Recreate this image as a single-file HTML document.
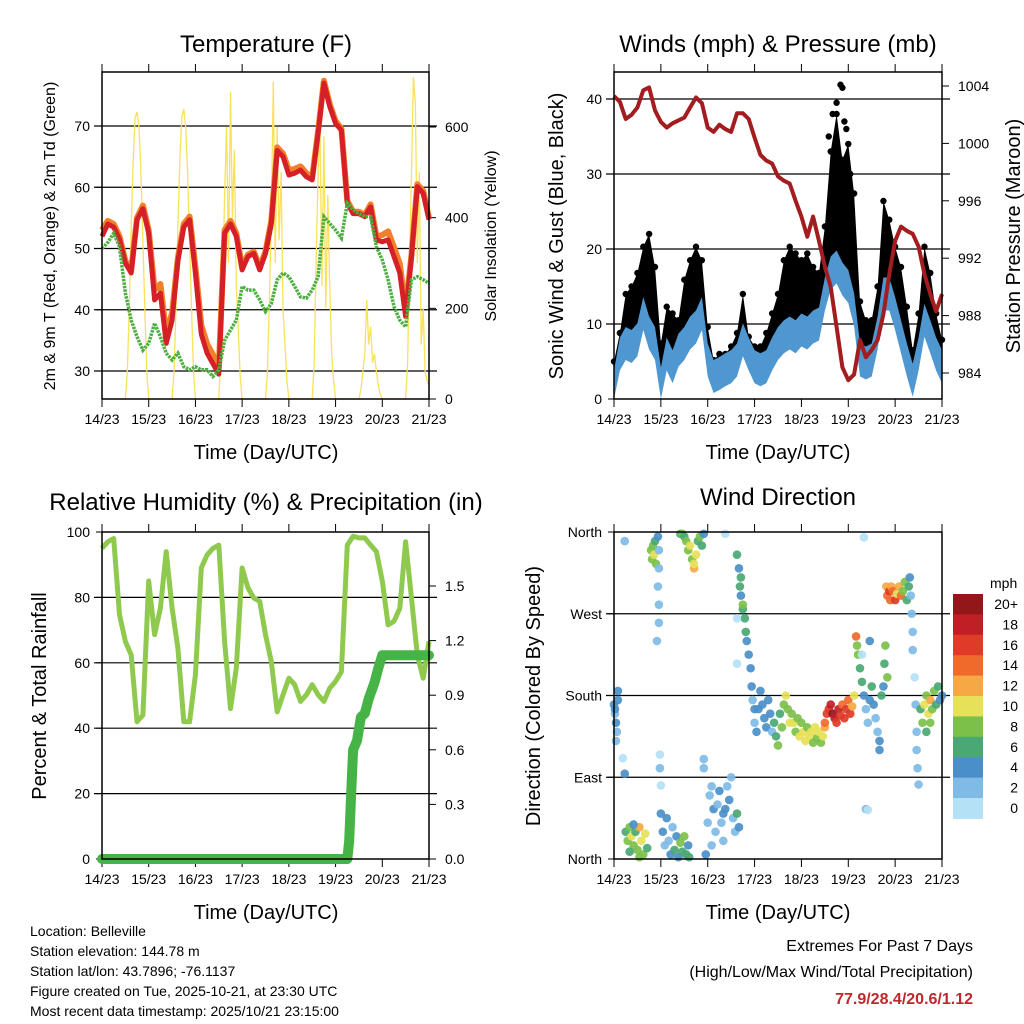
<!DOCTYPE html>
<html><head><meta charset="utf-8"><title>Weather station</title>
<style>
html,body{margin:0;padding:0;background:#fff;}
svg{display:block;font-family:"Liberation Sans",Arial,sans-serif;}
</style></head>
<body>
<svg id="fig" width="1024" height="1024" viewBox="0 0 1024 1024" xmlns="http://www.w3.org/2000/svg">
<rect width="1024" height="1024" fill="#fff"/>
<text x="266" y="52" font-size="24" text-anchor="middle">Temperature (F)</text>
<text x="778" y="52" font-size="24" text-anchor="middle">Winds (mph) &amp; Pressure (mb)</text>
<text x="266" y="510" font-size="24" text-anchor="middle">Relative Humidity (%) &amp; Precipitation (in)</text>
<text x="778" y="505" font-size="24" text-anchor="middle">Wind Direction</text>
<text x="266" y="459" font-size="20" text-anchor="middle">Time (Day/UTC)</text>
<text x="778" y="459" font-size="20" text-anchor="middle">Time (Day/UTC)</text>
<text x="266" y="919" font-size="20" text-anchor="middle">Time (Day/UTC)</text>
<text x="778" y="919" font-size="20" text-anchor="middle">Time (Day/UTC)</text>
<text transform="translate(55,236) rotate(-90)" font-size="16" text-anchor="middle">2m &amp; 9m T (Red, Orange) &amp; 2m Td (Green)</text>
<text transform="translate(496,236) rotate(-90)" font-size="16" text-anchor="middle">Solar Insolation (Yellow)</text>
<text transform="translate(563,236) rotate(-90)" font-size="20" text-anchor="middle">Sonic Wind &amp; Gust (Blue, Black)</text>
<text transform="translate(1020,236) rotate(-90)" font-size="20" text-anchor="middle">Station Pressure (Maroon)</text>
<text transform="translate(46,696) rotate(-90)" font-size="20" text-anchor="middle">Percent &amp; Total Rainfall</text>
<text transform="translate(540,696) rotate(-90)" font-size="20" text-anchor="middle">Direction (Colored By Speed)</text>
<g font-size="14">
<text x="30" y="936">Location: Belleville</text>
<text x="30" y="956">Station elevation: 144.78 m</text>
<text x="30" y="976">Station lat/lon: 43.7896; -76.1137</text>
<text x="30" y="996">Figure created on Tue, 2025-10-21, at 23:30 UTC</text>
<text x="30" y="1016">Most recent data timestamp: 2025/10/21 23:15:00</text>
</g>
<g text-anchor="end">
<text x="973" y="951" font-size="16">Extremes For Past 7 Days</text>
<text x="973" y="977" font-size="16">(High/Low/Max Wind/Total Precipitation)</text>
<text x="973" y="1004" font-size="16" font-weight="bold" fill="#c0272d">77.9/28.4/20.6/1.12</text>
</g>
</svg>
<script>
// ---------- data ----------
const hours3 = [0,3,6,9,12,15,18,21,24,27,30,33,36,39,42,45,48,51,54,57,60,63,66,69,72,75,78,81,84,87,90,93,96,99,102,105,108,111,114,117,120,123,126,129,132,135,138,141,144,147,150,153,156,159,162,165,168];
const tempRed = [52,54,53.5,51.5,47.6,46,54.7,56.5,52.5,41.6,42.7,34.5,38.3,48,53.5,54.7,46,36,32.9,31.2,29.5,52.5,54,52,46.5,48.7,49.2,46.5,49.2,54,66,65,62,62.3,62.8,61.7,61.2,68.8,77,73.2,70.4,69.3,57.4,55.7,55.7,55.2,56.8,51.4,51.1,51.4,48.7,46,38.9,48.7,60.1,59,54.7];
const tempOrange = [53,54.5,54,52,48,46.5,55,57,53,43.2,44.2,36,39.5,48.5,54,55.2,47,37.5,34.4,32.7,30.5,53,54.5,52.5,47,49,49.5,47,49.5,54.5,66.5,65.5,62.8,63,63.4,62.3,61.6,69.2,77.4,73.6,70.8,69.6,57.8,56,56,55.5,57.2,52,52.2,52.8,50.2,47.5,40,49,60.5,59.4,55];
const dewGreen = [50,51,52.5,50.3,42.7,38.3,35.6,33.4,34.5,37.8,35.6,32.9,31.8,32.9,30.7,30.2,30.7,30.2,30.2,29.1,30.2,35,36.7,38.3,43.8,43.2,43.2,41.6,39.7,41,44.9,46,45.4,43.8,42.1,41.9,43.2,45.4,55.2,54.1,53,51.7,57.4,56.3,55.7,55.2,55.2,50.3,48.1,44.9,40.5,38.3,37.2,44.9,45.4,44.9,44.3];
const solar = [0,0,0,0,0,0,0,0,0,0,0,0,
 0,60,200,380,520,620,633,600,500,350,200,60,
 0,0,0,0,0,0,0,0,0,0,0,0,
 0,60,200,380,530,620,640,600,500,350,200,60,
 0,0,0,0,0,0,0,0,0,0,0,0,
 0,80,250,450,600,300,677,400,550,250,150,50,
 0,0,0,0,0,0,0,0,0,0,0,0,
 0,60,220,400,700,300,600,350,500,200,120,40,
 0,0,0,0,0,0,0,0,0,0,0,0,
 0,80,300,500,600,250,580,200,450,250,100,40,
 0,0,0,0,0,0,0,0,0,0,0,0,
 0,20,60,100,218,120,160,80,100,60,30,10,
 0,0,0,0,0,0,0,0,0,0,0,0,
 0,80,300,500,710,650,300,500,120,200,60,40,30];
const windSpeed = [1.6,6,7.4,7,7.9,11.4,8.8,7.4,2,6,4.3,6.5,7.4,8.8,9.6,11.4,5.2,3,3.4,3.9,4.3,5.2,7.9,6,4.3,3.9,4.3,6,7.4,8.3,8.8,8.3,9.2,8.8,9.6,10,14,16.8,17.6,16,15,11.9,5.2,4.8,5.2,8.8,14,14,11.4,8.3,5.2,2.5,6,10.5,8.3,6,4.3];
const windGust = [5,8.8,14,15,16.8,20.3,22,17.6,7.4,12.3,11.4,10.5,15.9,18.5,20.3,18.5,9.6,5.2,6,6,7,8.8,14,8.3,7,7,8.8,11.4,14,18.5,20.3,19.4,18.5,19.4,17.6,16.8,23,33,38,31.9,34,27.4,13,10.5,10.5,15,26.4,23.9,20.3,17.6,12.3,6.5,11.4,20.3,16.8,11.4,7.9];
const gustPeakHours = [110,112,114,116,117,118,119,121];
const gustPeakValues = [35,38,39.5,41.9,41.5,37,36,30];
const pressure = [1003.3,1002.9,1001.7,1002,1002.5,1003.7,1003.9,1002.3,1001.5,1001.1,1001.4,1001.6,1001.8,1002.5,1003.2,1002.8,1001.1,1000.8,1001.3,1001,1000.8,1002.1,1002.1,1001.7,1000.4,999.2,998.8,998.6,997.7,997.4,997.2,996,994.9,993.5,994.9,993.2,991.4,990,987.2,984.4,983.5,983.9,986.3,985.1,985.6,986.3,988.1,990.9,993.2,994.2,993.9,993.7,992.8,990.9,989.5,988.3,989.5];
const humidity = [95,97,98,74.7,66.5,62.4,42,44,85,68.6,76.7,94,76.7,64.5,42,42,56.3,89,93,95,96,66.5,46,58.4,89,82.9,79.8,78.8,68.6,60.4,45,50.2,55.3,53.3,48.2,50.2,53.3,50.2,48.2,52.2,54.3,57.3,96,98.7,98.2,98.2,96,94,85,71.6,72.7,76.7,97,79.8,62.4,55.3,66.5];
const precipHours = [0,126,127,128,129,131,133,135,137,140,142,144,168];
const precipTotal = [0,0,0.1,0.35,0.6,0.65,0.78,0.8,0.88,0.97,1.05,1.12,1.12];
const dirHours = [0,0.5,1,1.5,2,1,2,0.5,5.5,5.5,4.5,
6,7,8,9,10,11,12,13,14,15,16,17,8,10,13,
19,19.5,20,20.5,21,21.5,
22.5,22.5,23,23,23,23,22,23.5,23.5,24,
24,25,26,27,28,29,30,31,32,33,34,35,36,37,38,38.5,
34,35,36,37,38,39,40,41,42,43,44,45,46,41,
47,48,49,50,51,52,53,54,55,56,57,58,59,60,61,62,63,64,50,56,46,46,
63,64,64.5,65,65,66,67,67.5,68,69,70,70.5,71,72,66,63,63,
72,73,74,75,76,77,78,79,80,81,82,83,84,85,86,87,88,89,90,91,
92,93,94,95,96,97,98,99,100,101,102,103,104,105,106,107,108,
108,109,110,111,112,113,114,115,116,117,118,119,120,121,122,123,
124,124.5,125,126,127,128,129,130,131,132,133,134,135,136,137,138,138.5,139,140,136,131,129,127,
139.5,140,141,141.5,142,143,144,145,146,147,148,149,150,151,151.5,
152,152.5,153,153,154,154.5,155,155,155.5,156,
157,158,159,160,161,162,163,164,165,166,167,168,160,162,
57,128,130];
const dirDegrees = [170,160,150,140,175,130,185,165,350,94,111,
30,20,35,25,15,30,10,35,20,5,28,12,8,38,2,
340,330,345,335,350,325,
355,300,280,320,260,340,240,115,100,81,
50,30,15,45,20,5,35,10,25,2,18,8,25,5,15,2,
358,358,355,350,340,345,330,320,335,350,355,345,358,325,
5,40,70,80,55,30,60,75,40,20,55,80,65,90,45,30,50,35,15,50,110,100,
335,320,300,290,310,275,265,250,240,225,210,190,175,165,280,215,265,
150,140,165,185,170,155,145,175,160,140,150,135,125,160,145,170,180,165,150,160,
150,140,155,135,150,140,130,145,135,140,128,145,133,140,128,135,145,
150,160,165,170,160,155,150,165,158,170,155,165,175,160,168,180,
245,235,225,210,195,180,165,150,175,190,170,155,140,130,180,190,215,235,200,120,240,55,225,
300,290,295,285,300,295,285,292,300,290,295,305,285,300,310,
290,270,250,230,200,170,140,120,100,82,
165,150,170,180,160,175,165,185,170,190,175,180,140,150,
358,354,54];
const dirSpeeds = [4,3,4,3,4,2,4,4,2,4,1,
6,8,8,10,8,6,8,12,10,8,10,6,6,4,8,
8,8,8,10,6,8,
4,2,2,2,2,2,2,1,2,1,
4,4,2,4,2,4,3,6,4,4,8,6,8,6,4,6,
6,8,6,8,8,10,8,12,10,6,8,6,4,10,
4,2,2,2,4,2,2,4,2,2,4,2,4,2,2,2,6,4,2,4,2,2,
6,4,6,4,6,6,6,6,4,4,4,4,2,4,8,1,1,
2,4,4,4,4,4,4,4,4,2,6,6,8,6,8,8,10,8,10,8,
10,8,8,10,8,10,10,8,10,10,8,10,8,10,8,10,12,
14,16,16,18,20,18,16,18,16,14,16,16,14,16,12,10,
14,8,8,6,6,4,2,2,4,6,4,2,2,4,6,4,6,8,8,4,4,2,1,
12,14,16,14,12,14,16,10,12,14,8,8,6,6,4,
2,2,2,2,1,2,2,2,2,2,
6,8,10,8,10,12,8,8,6,6,4,4,6,8,
1,1,1];
const speedLabels = ["0","2","4","6","8","10","12","14","16","18","20+"];
const speedColors = ["#b4e1f6","#7fbbe5","#4a8fc8","#49a873","#7cc04a","#e6e158","#f6a844","#f06a2c","#e03a28","#c01f26","#92161a"];
const dayLabels = ["14/23","15/23","16/23","17/23","18/23","19/23","20/23","21/23"];
const tempTicks = [30,40,50,60,70];
const solarTicks = [0,200,400,600];
const windTicks = [0,10,20,30,40];
const pressureTicks = [984,988,992,996,1000,1004];
const rhTicks = [0,20,40,60,80,100];
const precipTicks = [0,0.3,0.6,0.9,1.2,1.5];
const dirTicks = [0,90,180,270,360];
const dirTickLabels = ["North","East","South","West","North"];

// ---------- helpers ----------
const NS = "http://www.w3.org/2000/svg";
const svg = document.getElementById("fig");
function mk(tag, attrs, parent){
  const e = document.createElementNS(NS, tag);
  for (const k in attrs) e.setAttribute(k, attrs[k]);
  (parent || svg).appendChild(e);
  return e;
}
function lin(d0,d1,r0,r1){ return v => r0 + (v-d0)*(r1-r0)/(d1-d0); }
function pts(xs, ys, fx, fy){ return xs.map((h,i)=>fx(h).toFixed(1)+","+fy(ys[i]).toFixed(1)).join(" "); }

const L = {x0:102,x1:429}, R = {x0:614,x1:942};
const xL = lin(0,168,L.x0,L.x1), xR = lin(0,168,R.x0,R.x1);
const top1=72, bot1=399, top2=532, bot2=859;
const yTemp = lin(30,70,371,126), ySolar = lin(0,600,399,127);
const yWind = lin(0,40,399,99), yPres = lin(984,1004,373,86);
const yRH = lin(0,100,859,532), yPrec = lin(0,1.5,859,586);
const yDir = lin(0,360,859,532);

function frame(x0,x1,y0,y1,name,leftTicks,leftFn,leftLabels,rightTicks,rightFn,rightLabels,xFn){
  const g = mk("g",{});
  
  
  leftTicks.forEach((v,i)=>{
    const y = leftFn(v);
    if (y>y0+1 && y<y1-1){
      const gl = mk("line",{x1:x0-8,x2:x1+8,y1:y,y2:y,stroke:"#000","stroke-width":1.2},g);
      
      
    }
    mk("line",{x1:x0-6,x2:x0,y1:y,y2:y,stroke:"#000"},g);
    const t = mk("text",{x:x0-12,y:y+5,"font-size":14,"text-anchor":"end"},g);
    
    
    t.textContent = leftLabels[i];
  });
  if (rightTicks){
    rightTicks.forEach((v,i)=>{
      const y = rightFn(v);
      mk("line",{x1:x1,x2:x1+7,y1:y,y2:y,stroke:"#000"},g);
      const t = mk("text",{x:x1+16,y:y+5,"font-size":14},g);
      
      
      t.textContent = rightLabels[i];
    });
  }
  dayLabels.forEach((d,i)=>{
    const x = xFn(i*24);
    mk("line",{x1:x,x2:x,y1:y0-8,y2:y0,stroke:"#000"},g);
    mk("line",{x1:x,x2:x,y1:y1,y2:y1+8,stroke:"#000"},g);
    const t = mk("text",{x:x,y:y1+25,"font-size":14,"text-anchor":"middle"},g);
    
    
    t.textContent = d;
  });
  return g;
}
function box(x0,x1,y0,y1){
  const b = mk("rect",{x:x0,y:y0,width:x1-x0,height:y1-y0,fill:"none",stroke:"#000","stroke-width":1.5});
  
  
}

// ---------- panel 1: temperature ----------
frame(L.x0,L.x1,top1,bot1,"temperature-axes",tempTicks,yTemp,tempTicks.map(String),solarTicks,ySolar,solarTicks.map(String),xL);
const solarLine = mk("polyline",{points:pts(solar.map((v,i)=>i),solar,xL,ySolar),fill:"none",stroke:"#f9e15a","stroke-width":1.3});


const tOr = mk("polyline",{points:pts(hours3,tempOrange,xL,yTemp),fill:"none",stroke:"#f37f2a","stroke-width":6,"stroke-linejoin":"round"});


const tRed = mk("polyline",{points:pts(hours3,tempRed,xL,yTemp),fill:"none",stroke:"#d42026","stroke-width":5,"stroke-linejoin":"round"});


const tDew = mk("polyline",{points:pts(hours3,dewGreen,xL,yTemp),fill:"none",stroke:"#4caf3f","stroke-width":3.5,"stroke-dasharray":"2.5,1"});


box(L.x0,L.x1,top1,bot1);

// ---------- panel 2: winds ----------
frame(R.x0,R.x1,top1,bot1,"wind-axes",windTicks,yWind,windTicks.map(String),pressureTicks,yPres,pressureTicks.map(String),xR);
const gustBand = mk("polygon",{points:pts(hours3,windGust,xR,yWind)+" "+pts(hours3.slice().reverse(),windSpeed.slice().reverse(),xR,yWind),fill:"#000"});


hours3.forEach((h,i)=>{
  const c = mk("circle",{cx:xR(h),cy:yWind(windGust[i]),r:3.2,fill:"#000"});
  
  
});
gustPeakHours.forEach((h,i)=>{
  const c = mk("circle",{cx:xR(h),cy:yWind(gustPeakValues[i]),r:3.2,fill:"#000"});
  
  
});
const windBand = mk("polygon",{points:pts(hours3,windSpeed.map(v=>v+2.2),xR,yWind)+" "+pts(hours3.slice().reverse(),windSpeed.map(v=>Math.max(0,v-2.2)).reverse(),xR,yWind),fill:"#4f97d1"});


const presLine = mk("polyline",{points:pts(hours3,pressure,xR,yPres),fill:"none",stroke:"#a31c1f","stroke-width":4,"stroke-linejoin":"round"});


box(R.x0,R.x1,top1,bot1);

// ---------- panel 3: humidity ----------
frame(L.x0,L.x1,top2,bot2,"humidity-axes",rhTicks,yRH,rhTicks.map(String),precipTicks,yPrec,precipTicks.map(v=>v.toFixed(1)),xL);
const rhLine = mk("polyline",{points:pts(hours3,humidity,xL,yRH),fill:"none",stroke:"#8fca4e","stroke-width":5,"stroke-linejoin":"round"});


const prLine = mk("polyline",{points:pts(precipHours,precipTotal,xL,yPrec),fill:"none",stroke:"#46b347","stroke-width":10,"stroke-linejoin":"round","stroke-linecap":"round"});


box(L.x0,L.x1,top2,bot2);

// ---------- panel 4: wind direction ----------
frame(R.x0,R.x1,top2,bot2,"direction-axes",dirTicks,yDir,dirTickLabels,null,null,null,xR);
dirHours.forEach((h,i)=>{
  const idx = Math.min(10, Math.floor(dirSpeeds[i]/2));
  const c = mk("circle",{cx:xR(h),cy:yDir(dirDegrees[i]),r:4.3,fill:speedColors[idx],"fill-opacity":0.92});
  
  
});
box(R.x0,R.x1,top2,bot2);

// ---------- colorbar ----------
const cb = mk("g",{});


const cbTop = 594, cbH = 20.4;
const mph = mk("text",{x:990,y:588,"font-size":14},cb);


mph.textContent = "mph";
speedLabels.forEach((lab,i)=>{
  const k = speedLabels.length-1-i;
  const y = cbTop + i*cbH;
  const r = mk("rect",{x:953,y:y,width:30,height:cbH+0.5,fill:speedColors[k]},cb);
  
  
  const t = mk("text",{x:1018,y:y+15,"font-size":14,"text-anchor":"end"},cb);
  
  
  t.textContent = speedLabels[k];
});
</script>
</body></html>
